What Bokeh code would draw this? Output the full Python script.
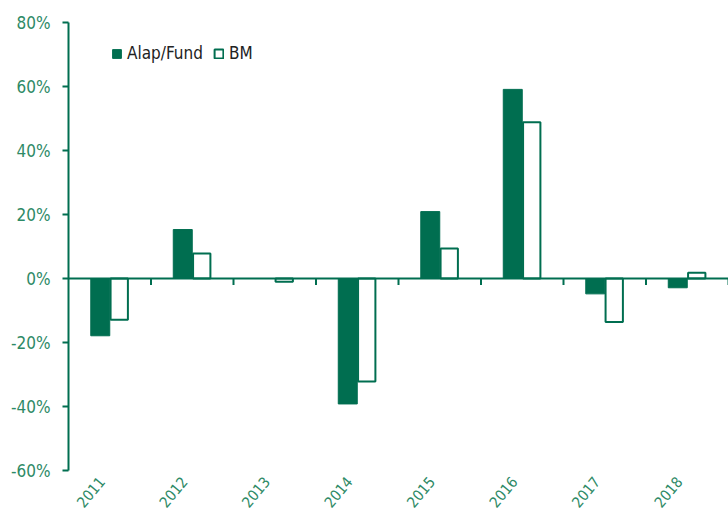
import math
from bokeh.plotting import figure
from bokeh.models import (Range1d, FixedTicker, PrintfTickFormatter, Span, Legend,
                          LegendItem, ColumnDataSource)
from bokeh.embed import file_html
from bokeh.resources import INLINE

years = ["2011", "2012", "2013", "2014", "2015", "2016", "2017", "2018"]
fund = [-17.9, 15.3, 0.0, -39.2, 20.9, 59.1, -4.8, -2.9]
bm = [-12.9, 7.8, -1.0, -32.2, 9.4, 48.8, -13.6, 1.8]
y_ticks = [-60, -40, -20, 0, 20, 40, 60, 80]

GREEN = "#006E50"
LABEL_GREEN = "#2E8A66"
FONT = "'DejaVu Sans Condensed', 'Liberation Sans Narrow', sans-serif"

idx = list(range(len(years)))
centers = [i + 0.5 for i in idx]
label_pos = [c - 0.1 for c in centers]
src = ColumnDataSource(dict(
    xf=[c - 0.115 for c in centers],
    xb=[c + 0.115 for c in centers],
    fund=fund, bm=bm,
))

p = figure(width=728, height=515, output_backend="svg", toolbar_location=None,
           x_range=Range1d(0, len(years)), y_range=Range1d(y_ticks[0], y_ticks[-1]),
           min_border_left=68, min_border_right=0, min_border_top=22, min_border_bottom=45)
p.outline_line_color = None
p.xgrid.visible = False
p.ygrid.visible = False

# zero line with category-boundary ticks
p.add_layout(Span(location=0, dimension="width", line_color=GREEN, line_width=2))
p.segment(x0=[i + 1 for i in idx], y0=[0] * len(idx), x1=[i + 1 for i in idx],
          y1=[-2] * len(idx), line_color=GREEN, line_width=2)

r1 = p.vbar(x="xf", top="fund", bottom=0, width=0.23, source=src,
            fill_color=GREEN, line_color=GREEN, line_width=1)
r2 = p.vbar(x="xb", top="bm", bottom=0, width=0.21, source=src,
            fill_color="white", line_color=GREEN, line_width=2)

# y axis
ya = p.yaxis[0]
ya.ticker = FixedTicker(ticks=y_ticks)
ya.formatter = PrintfTickFormatter(format="%d%%")
ya.axis_line_color = GREEN
ya.axis_line_width = 2
ya.major_tick_line_color = GREEN
ya.major_tick_line_width = 2
ya.major_tick_out = 6
ya.major_tick_in = 0
ya.minor_tick_line_color = None
ya.major_label_text_color = LABEL_GREEN
ya.major_label_text_font = FONT
ya.major_label_text_font_size = "17px"
ya.major_label_standoff = 12

# x axis (labels only, at the bottom)
xa = p.xaxis[0]
xa.ticker = FixedTicker(ticks=label_pos)
xa.major_label_overrides = {c: y for c, y in zip(label_pos, years)}
xa.axis_line_color = None
xa.major_tick_line_color = None
xa.major_tick_out = 0
xa.major_tick_in = 0
xa.minor_tick_line_color = None
xa.major_label_orientation = math.radians(50)
xa.major_label_text_color = LABEL_GREEN
xa.major_label_text_font = FONT
xa.major_label_text_font_size = "15px"
xa.major_label_standoff = 8

legend = Legend(items=[LegendItem(label="Alap/Fund", renderers=[r1]),
                       LegendItem(label="BM", renderers=[r2])],
                orientation="horizontal", location=(43, 407),
                border_line_color=None, background_fill_alpha=0,
                glyph_width=11, glyph_height=11, label_standoff=5, spacing=10,
                padding=2, margin=0,
                label_text_font=FONT, label_text_font_size="17px",
                label_text_color="#222222")
p.add_layout(legend)

open("out.html", "w").write(file_html(p, INLINE))
